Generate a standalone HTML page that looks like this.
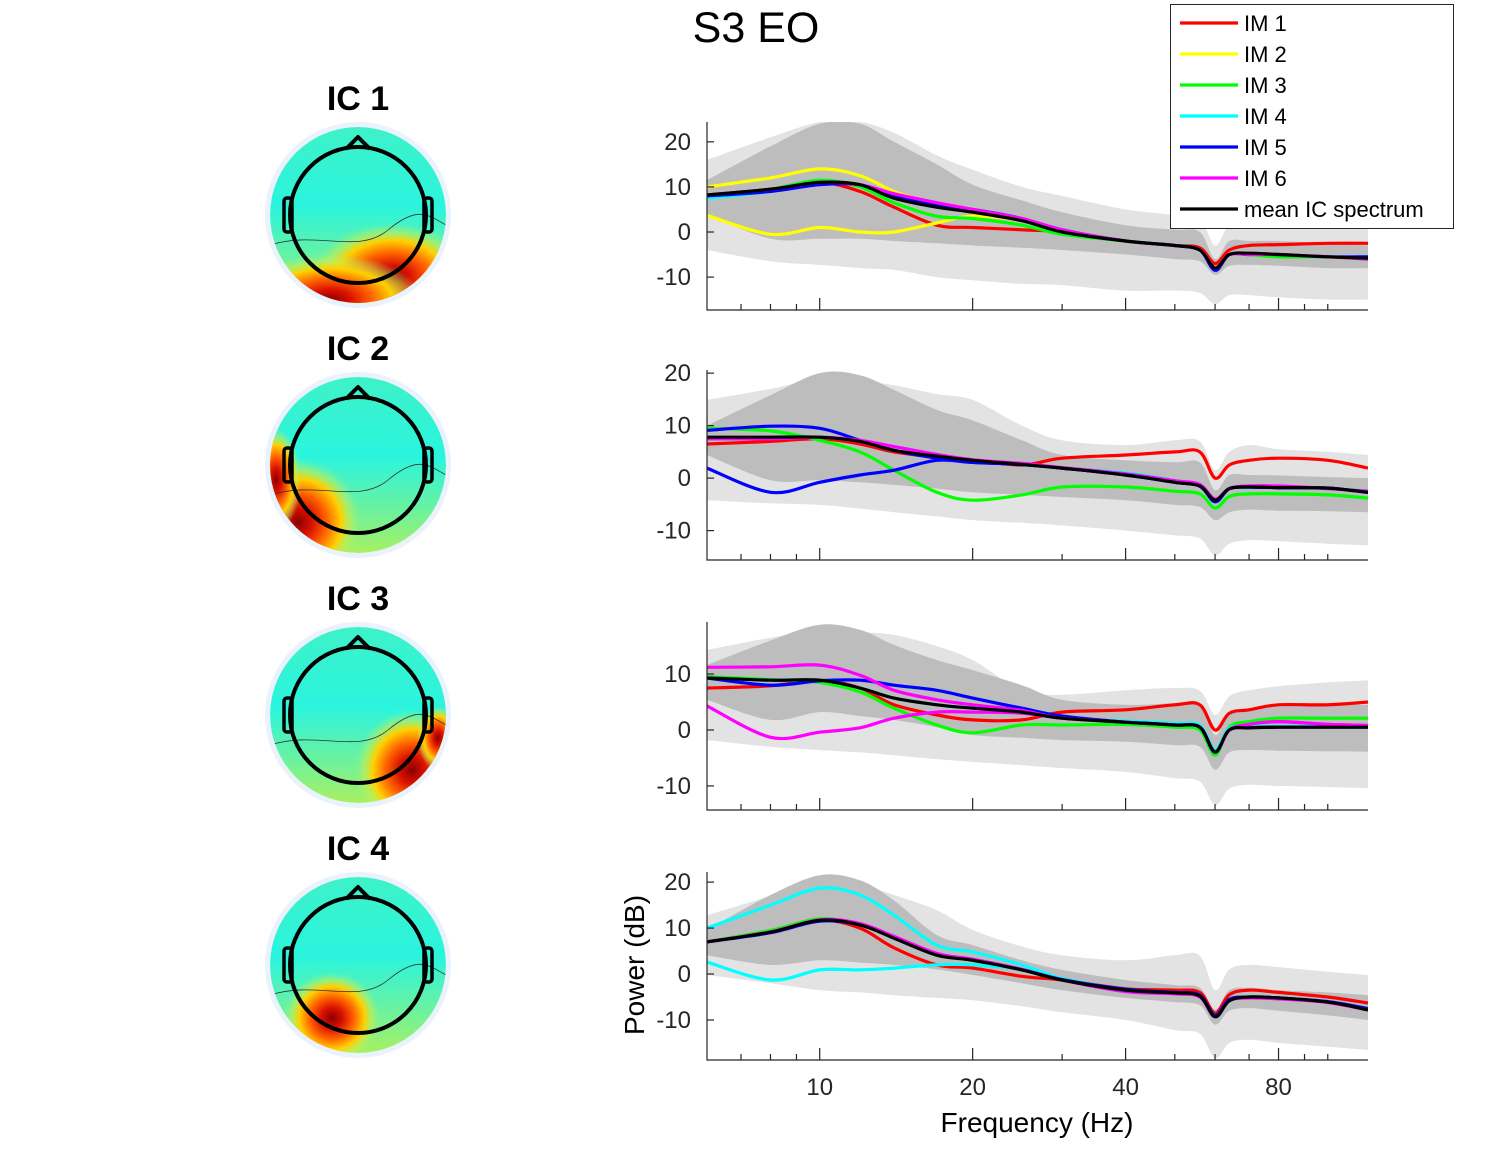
<!DOCTYPE html>
<html><head><meta charset="utf-8">
<style>
html,body{margin:0;padding:0;background:#fff;}
svg{display:block;font-family:"Liberation Sans",sans-serif;}
</style></head>
<body>
<svg id="fig" width="1512" height="1152" viewBox="0 0 1512 1152" xmlns="http://www.w3.org/2000/svg">
<defs>
  <linearGradient id="base" x1="0" y1="0" x2="0" y2="1">
    <stop offset="0" stop-color="#3ef2c8"/><stop offset="0.45" stop-color="#2af4de"/><stop offset="0.75" stop-color="#6af2a0"/><stop offset="1" stop-color="#a8f060"/>
  </linearGradient>
  <radialGradient id="hot">
    <stop offset="0" stop-color="#8a0000"/><stop offset="0.22" stop-color="#d81000"/><stop offset="0.45" stop-color="#ff6000"/><stop offset="0.68" stop-color="#ffd000"/><stop offset="0.85" stop-color="#c8f050" stop-opacity="0.5"/><stop offset="1" stop-color="#a0f080" stop-opacity="0"/>
  </radialGradient>
</defs>
<text x="756" y="42" text-anchor="middle" font-size="43">S3 EO</text>
<g id="topos"></g>
<g id="panels"></g>
<text x="1037" y="1132" text-anchor="middle" font-size="28">Frequency (Hz)</text>
<text transform="translate(644,965) rotate(-90)" text-anchor="middle" font-size="28">Power (dB)</text>
<g id="legend"></g>
</svg>
<script>
const NS="http://www.w3.org/2000/svg";
const freqs=[6,8,10,12,14,17,20,25,30,40,50,56,60,64,70,80,100,120];
const xTickVals=[10,20,40,80];
const xTickLabels=["10","20","40","80"];
const xMinorVals=[7,8,9,30,50,60,70,90,100];
const seriesNames=["IM 1","IM 2","IM 3","IM 4","IM 5","IM 6","mean IC spectrum"];
const icNames=["IC 1","IC 2","IC 3","IC 4"];

const p1Mean=[8.2,9.5,11,10.5,7.5,5.5,4.4,2.5,0,-2,-3,-4,-8,-5,-4.7,-5,-5.5,-5.8];
const p1Im1=[8.2,9.5,11,9,5.5,1.5,1,0.5,0,-2,-3,-3.5,-7,-4,-3,-2.8,-2.5,-2.5];
const p1Im2a=[10,12,14,12.5,9,6,4.5,2.5,0,-2,-3,-4,-8,-5,-5,-5,-5.5,-6];
const p1Im2b=[3.7,-0.5,1,0,0,2,3.5,2.5,0,-2,-3,-4,-8,-5,-5,-5,-5.5,-6];
const p1Im3=[8,9.5,11.5,10,6.5,3.5,3,1.5,-0.5,-2,-3,-4,-8,-5,-5,-5.5,-5.5,-6];
const p1Im4=[7.5,9,11,10.5,7.5,5.5,4.5,2.5,0,-2,-3,-4,-8,-5,-5,-5,-5.5,-5.5];
const p1Im5=[8,9,10.5,10.5,8,6,5,3,0.5,-2,-3,-4,-8.5,-5,-5,-5,-5.5,-5.5];
const p1Im6=[8.2,9.5,11,10.5,8.5,6.5,5,3,0.5,-2,-3,-4,-8,-5,-5,-5,-5.5,-6];
const p1DarkU=[11.5,19,24,24,20,15,10.5,7,4.4,1.5,0.5,0,-6,-2,-2,-2,-2.5,-3];
const p1DarkL=[3.8,-1.5,-1.5,-1.5,-2,-2.5,-3,-3.5,-4,-5,-6,-6.5,-9.5,-7.5,-7.3,-7.5,-8,-8];
const p1LightU=[16,21,24.4,24.4,22,17,13.8,10,8,5,3.8,3,-3,1.5,1.5,1.5,1.5,1.5];
const p1LightL=[-4,-6.5,-7.3,-8,-8.4,-10,-10.7,-11.5,-11.8,-13,-13,-13.5,-16,-14,-14,-14.5,-15,-15];

const p2Mean=[7.8,7.8,7.8,7,5.3,4.2,3.4,2.6,1.9,0.6,-0.8,-1.5,-4.2,-2,-1.7,-1.8,-1.9,-2.7];
const p2Im1=[6.5,7,7.5,6.5,5,4,3.5,2.5,3.8,4.4,5,5,0,2.5,3.4,3.8,3.4,1.9];
const p2Im3=[9.5,9,7.2,5,1.5,-2.7,-4.2,-3.2,-1.7,-1.7,-2.5,-3,-5.7,-3.5,-3,-3,-3.2,-3.8];
const p2Im4=[7.5,7.8,7.8,7,5.3,4.2,3.4,2.6,1.9,1,-0.5,-1.5,-4.5,-2,-1.8,-1.8,-2,-2.5];
const p2Im5a=[9.1,9.9,9.5,7.2,5.3,3.8,3,2.6,1.9,0.6,-0.8,-1.5,-4.5,-2,-1.7,-1.8,-1.9,-2.7];
const p2Im5b=[1.9,-2.7,-0.8,0.6,1.5,3.4,3,2.6,1.9,0.6,-0.8,-1.5,-4.5,-2,-1.7,-1.8,-1.9,-2.7];
const p2Im6=[7.5,7.5,7.8,7.2,6,4.5,3.5,2.8,2,0.8,-0.5,-1.2,-4,-2,-1.5,-1.5,-2,-2.5];
const p2DarkU=[10,15.8,20,19.6,16.8,13,11,7.2,4.4,3.4,3,3,-2.3,0.6,0.6,0.5,0.2,0];
const p2DarkL=[4.4,-0.4,-0.4,-0.8,-1.3,-2,-2.7,-3.2,-3.6,-4.2,-5.1,-5.5,-8,-6.5,-6,-6.2,-6.3,-6.5];
const p2LightU=[14.9,17,19,18.5,17.7,16,14.9,10,7.2,6.3,7.2,7,1.5,5,6.3,5.5,5,4.4];
const p2LightL=[-4.2,-4.8,-5.1,-5.8,-6.5,-7.3,-8,-8.5,-9,-10,-10.9,-11.5,-14.7,-12.5,-11.8,-12,-12.5,-12.8];

const p3Mean=[9.3,8.9,8.9,7.5,5.7,4.5,3.9,3.2,2.1,1.4,0.9,0.5,-3.9,0,0.4,0.5,0.5,0.5];
const p3Im1=[7.5,7.9,8.9,7.5,4.5,2.7,1.8,1.8,3.2,3.6,4.5,4.5,0,3,3.6,4.5,4.5,5];
const p3Im3=[9.5,9,8.5,6.8,3.9,0.9,-0.5,0.9,0.9,1,0.5,0,-4.5,0.5,1.5,2.1,2.1,2.1];
const p3Im4=[9.3,8.9,8.9,7.5,5.7,4.5,3.9,3.2,2.1,1.6,1.2,0.8,-3.5,0.3,0.6,0.6,0.6,0.6];
const p3Im5=[9.3,8,8.8,8.9,8,7.1,5.7,3.9,2.5,1.4,0.9,0.5,-4,0,0.4,0.5,0.5,0.5];
const p3Im6a=[11.2,11.3,11.6,9.8,7.1,5.4,4.5,3.5,2.1,1.4,0.9,0.5,-3.9,0,1,1.5,1,0.8];
const p3Im6b=[4.3,-1.3,-0.4,0.4,2.1,3.2,3.2,3,2.1,1.4,0.9,0.5,-3.9,0,1,1.5,1,0.8];
const p3DarkU=[11.6,16,18.8,17.9,15.2,12.5,10.7,8,5.4,4.5,4.8,4.8,-0.9,3,3.9,4.2,4.4,4.5];
const p3DarkL=[5.4,1.8,3.2,2.5,1.8,0.5,-0.9,-1.4,-1.8,-2.1,-2.7,-3,-7.1,-4,-3.6,-3.7,-3.8,-3.9];
const p3LightU=[14.3,16.5,17.9,17.5,17,15,12.5,7.1,6.3,7.1,7.5,7,2.7,6,7.1,7.8,8.5,8.9];
const p3LightL=[-1.8,-3,-3.6,-4,-4.5,-5.2,-5.7,-6.3,-6.8,-7.5,-8.6,-9.2,-13.4,-10.5,-9.8,-10,-10.2,-10.4];

const p4Mean=[7,9.1,11.7,10.7,7.8,4.1,3,0.9,-1.3,-3.5,-4.1,-4.8,-9.3,-5.8,-5,-5.2,-6.1,-7.8];
const p4Im1=[7,9.1,11.7,10,5.7,2,1.3,-0.5,-1.3,-3.2,-3.5,-4,-8.5,-4.5,-3.5,-4,-5,-6.3];
const p4Im3=[7,9.5,12,10.7,8,4.5,3,0.9,-1.3,-3.5,-4.1,-4.8,-9.3,-5.8,-5,-5.2,-6.1,-7.8];
const p4Im4a=[10,15,18.7,17.2,12.8,6.3,4.8,2,-1,-3.5,-4.1,-4.8,-9.3,-5.8,-5,-5.2,-6.1,-7.5];
const p4Im4b=[2.6,-1.3,0.9,0.9,1.3,2,2,1,-1,-3.5,-4.1,-4.8,-9.3,-5.8,-5,-5.2,-6.1,-7.5];
const p4Im5=[7,9,11.5,10.7,8,4.3,3.2,1,-1.2,-3.3,-4,-4.6,-9,-5.5,-5,-5.2,-6,-7.5];
const p4Im6=[7,9.2,11.8,11,8.2,4.5,3.2,1,-1.3,-3.8,-4.3,-5,-9.3,-5.8,-5.2,-5.4,-6.2,-7.8];
const p4DarkU=[9.6,17.2,21.5,20.4,16,8.5,6.3,3,0.9,-1.3,-2.4,-3,-7.8,-3.5,-3,-3.5,-4,-4.6];
const p4DarkL=[4.1,2,3,2.5,2,1,-0.2,-2,-3.5,-5.2,-6.1,-6.8,-11,-8,-7.4,-8,-9,-10];
const p4LightU=[12.8,17,20.4,19.5,17.2,13.9,9.6,6,4.1,3,4.1,4,-3.5,1,2,1.5,0.5,-0.2];
const p4LightL=[-0.2,-2,-3.5,-4,-4.6,-5.2,-5.7,-7,-8.3,-10,-12.2,-13,-18.3,-15,-14.3,-15,-15.8,-16.5];

const colors=["#ff0000","#ffff00","#00ff00","#00ffff","#0000ff","#ff00ff","#000000"];
const panels=[
 {top:122,bottom:310,ymin:-17.3,ymax:24.4,yticks:[20,10,0,-10],light:[p1LightU,p1LightL],dark:[p1DarkU,p1DarkL],
  lines:[[p1Im1,0],[p1Im2a,1],[p1Im2b,1],[p1Im3,2],[p1Im4,3],[p1Im5,4],[p1Im6,5],[p1Mean,6]],xlabels:false},
 {top:370,bottom:560,ymin:-15.6,ymax:20.6,yticks:[20,10,0,-10],light:[p2LightU,p2LightL],dark:[p2DarkU,p2DarkL],
  lines:[[p2Im1,0],[p2Im3,2],[p2Im4,3],[p2Im5a,4],[p2Im5b,4],[p2Im6,5],[p2Mean,6]],xlabels:false},
 {top:622,bottom:810,ymin:-14.3,ymax:19.3,yticks:[10,0,-10],light:[p3LightU,p3LightL],dark:[p3DarkU,p3DarkL],
  lines:[[p3Im1,0],[p3Im3,2],[p3Im4,3],[p3Im5,4],[p3Im6a,5],[p3Im6b,5],[p3Mean,6]],xlabels:false},
 {top:872,bottom:1060,ymin:-18.7,ymax:22.2,yticks:[20,10,0,-10],light:[p4LightU,p4LightL],dark:[p4DarkU,p4DarkL],
  lines:[[p4Im1,0],[p4Im3,2],[p4Im4a,3],[p4Im4b,3],[p4Im5,4],[p4Im6,5],[p4Mean,6]],xlabels:true}
];
const X0=707,X1=1368,FMIN=6,FMAX=120;
function xs(f){return X0+(X1-X0)*Math.log(f/FMIN)/Math.log(FMAX/FMIN);}
function mk(tag,attrs,parent){const e=document.createElementNS(NS,tag);for(const k in attrs)e.setAttribute(k,attrs[k]);parent.appendChild(e);return e;}
// smooth path (Catmull-Rom) through pixel points
function smooth(pts,start){
  let d=(start?'M':'L')+pts[0][0].toFixed(1)+','+pts[0][1].toFixed(1);
  for(let i=0;i<pts.length-1;i++){
    const p0=pts[Math.max(0,i-1)],p1=pts[i],p2=pts[i+1],p3=pts[Math.min(pts.length-1,i+2)];
    const c1=[p1[0]+(p2[0]-p0[0])/6,p1[1]+(p2[1]-p0[1])/6];
    const c2=[p2[0]-(p3[0]-p1[0])/6,p2[1]-(p3[1]-p1[1])/6];
    d+='C'+c1[0].toFixed(1)+','+c1[1].toFixed(1)+' '+c2[0].toFixed(1)+','+c2[1].toFixed(1)+' '+p2[0].toFixed(1)+','+p2[1].toFixed(1);
  }
  return d;
}

const pg=document.getElementById('panels');
panels.forEach((p,pi)=>{
  const ys=v=>p.bottom-(v-p.ymin)/(p.ymax-p.ymin)*(p.bottom-p.top);
  const g=mk('g',{},pg);
  
  
  const cp=mk('clipPath',{id:'pclip'+pi},g);
  mk('rect',{x:X0,y:p.top,width:X1-X0,height:p.bottom-p.top},cp);
  const inner=mk('g',{'clip-path':`url(#pclip${pi})`},g);
  const band=(u,l,fill,name)=>{
    const up=freqs.map((f,i)=>[xs(f),ys(u[i])]);
    const lo=freqs.map((f,i)=>[xs(f),ys(l[i])]).reverse();
    const e=mk('path',{d:smooth(up,true)+smooth(lo,false)+'Z',fill:fill},inner);
    
    
  };
  band(p.light[0],p.light[1],'#e3e3e3','outer-range-band');
  band(p.dark[0],p.dark[1],'#bdbdbd','inner-range-band');
  p.lines.forEach(([vals,ci])=>{
    const pts=freqs.map((f,i)=>[xs(f),ys(vals[i])]);
    const e=mk('path',{d:smooth(pts,true),fill:'none',stroke:colors[ci],'stroke-width':3.2,'stroke-linejoin':'round'},inner);
    
    
  });
  const ax=mk('path',{d:`M${X0},${p.top}L${X0},${p.bottom}L${X1},${p.bottom}`,fill:'none',stroke:'#262626','stroke-width':1.2},g);
  
  
  p.yticks.forEach(v=>{
    const y=ys(v);
    mk('line',{x1:X0,x2:X0+7,y1:y,y2:y,stroke:'#262626','stroke-width':1.2},g);
    const t=mk('text',{x:X0-16,y:y+8,'text-anchor':'end','font-size':24,fill:'#262626'},g);
    t.textContent=String(v);
    
    
  });
  xTickVals.forEach((f,i)=>{
    const x=xs(f);
    mk('line',{x1:x,x2:x,y1:p.bottom,y2:p.bottom-12,stroke:'#262626','stroke-width':1.2},g);
    if(p.xlabels){
      const t=mk('text',{x:x,y:p.bottom+35,'text-anchor':'middle','font-size':24,fill:'#262626'},g);
      t.textContent=xTickLabels[i];
      
      
    }
  });
  xMinorVals.forEach(f=>{const x=xs(f);mk('line',{x1:x,x2:x,y1:p.bottom,y2:p.bottom-6,stroke:'#262626','stroke-width':1.2},g);});
});

// topomaps
const tg=document.getElementById('topos');
const hots=[[[392,278,70,48],[330,300,80,40]],[[298,522,55,55],[276,480,22,45]],[[412,770,50,52],[438,738,18,28]],[[332,1018,42,40]]];
icNames.forEach((name,i)=>{
  const cx=358,cy=215+250*i;
  const g=mk('g',{},tg);
  
  
  const t=mk('text',{x:cx,y:cy-105,'text-anchor':'middle','font-size':34,'font-weight':'bold'},g);
  t.textContent=name;
  
  
  mk('circle',{cx:cx,cy:cy,r:93,fill:'#eaf2fc'},g);
  const cp=mk('clipPath',{id:'clip'+i},g);
  mk('circle',{cx:cx,cy:cy,r:88},cp);
  const inner=mk('g',{'clip-path':`url(#clip${i})`},g);
  mk('circle',{cx:cx,cy:cy,r:88,fill:'url(#base)'},inner);
  hots[i].forEach(h=>mk('ellipse',{cx:h[0],cy:h[1],rx:h[2]*1.15,ry:h[3]*1.15,fill:'url(#hot)'},inner));
  mk('path',{d:`M${cx-88},${cy+30}C${cx-40},${cy+15} ${cx},${cy+40} ${cx+30},${cy+15}S${cx+70},${cy} ${cx+88},${cy+10}`,fill:'none',stroke:'#333','stroke-width':0.8},inner);
  mk('circle',{cx:cx,cy:cy,r:68,fill:'none',stroke:'#000','stroke-width':4},g);
  mk('path',{d:`M${cx-12},${cy-66}L${cx},${cy-78}L${cx+12},${cy-66}`,fill:'none',stroke:'#000','stroke-width':4,'stroke-linejoin':'round'},g);
  mk('rect',{x:cx-74,y:cy-17,width:8,height:34,rx:3,fill:'none',stroke:'#000','stroke-width':3.5},g);
  mk('rect',{x:cx+66,y:cy-17,width:8,height:34,rx:3,fill:'none',stroke:'#000','stroke-width':3.5},g);
});

// legend
const lg=document.getElementById('legend');
mk('rect',{x:1170.5,y:4.5,width:283,height:224,fill:'#fff',stroke:'#262626','stroke-width':1},lg);
seriesNames.forEach((n,i)=>{
  const y=23+31*i;
  const e=mk('g',{},lg);
  
  
  mk('line',{x1:1180,x2:1238,y1:y,y2:y,stroke:colors[i],'stroke-width':3.2},e);
  const t=mk('text',{x:1244,y:y+8,'font-size':22},e);
  t.textContent=n;
});
</script>
</body></html>
